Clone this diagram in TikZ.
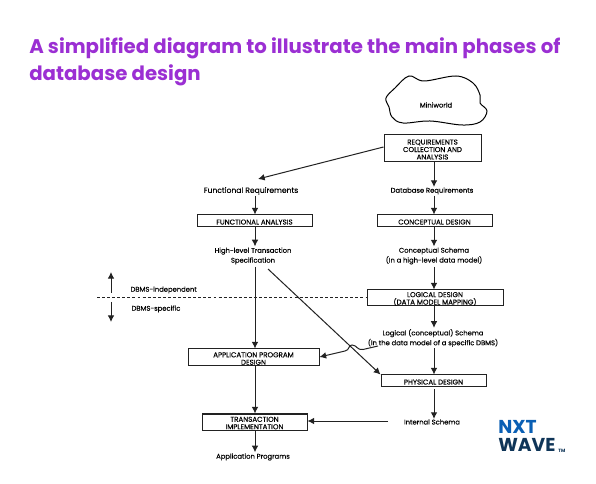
\documentclass[tikz,border=0pt]{standalone}
\usepackage{fontspec}
\setmainfont{Poppins}
\newfontfamily\medfont{Poppins}[FakeBold=0.15]
\usetikzlibrary{arrows.meta}
\definecolor{ttl}{HTML}{9B2FD3}
\definecolor{nxtb}{HTML}{0A5FB4}
\definecolor{nxtd}{HTML}{0F3558}
\definecolor{ink}{HTML}{222222}
\newcommand\dn{\rule{0pt}{5.3pt}}
\tikzset{
  pbox/.style={draw=ink,line width=0.75pt,fill=white,align=center,inner sep=0pt,text=black,font=\fontsize{5.3}{5.6}\selectfont\medfont},
  ptext/.style={align=center,inner sep=1pt,text=black,font=\fontsize{5.1}{7.4}\selectfont\medfont},
  arr/.style={draw=ink,line width=0.75pt,-{Latex[length=5pt,width=5pt]}},
  ttltext/.style={anchor=west,inner sep=0pt,text=ttl,font=\fontsize{14.8}{18}\selectfont\bfseries}
}
\begin{document}
\begin{tikzpicture}[x=0.75pt,y=-0.75pt]
\useasboundingbox[fill=white] (0,0) rectangle (596,484);
\node[ttltext] (t1) at (29,48) {A simplified diagram to illustrate the main phases of};
\node[ttltext] (t2) at (29,75) {database design};
% cloud
\draw[line width=0.75pt,black] plot[smooth cycle,tension=0.6] coordinates {(386,98)(395,88)(409,76)(424,81)(456,76)(473,83)(480,95)(480,103)(487,111)(480,122)(462,125)(430,121)(403,123)(392,117)(389,107)};
\node[ptext] (mini) at (436,105) {Miniworld};
% axes
\coordinate (axr) at (434,0);
\coordinate (axl) at (255,0);
% boxes
\node[pbox,minimum width=97*0.75pt,minimum height=27*0.75pt] (req) at (432.5,148.5) {\dn REQUIREMENTS\\COLLECTION AND\\ANALYSIS};
\node[pbox,minimum width=115*0.75pt,minimum height=12*0.75pt] (fa) at (254.5,221) {\dn FUNCTIONAL ANALYSIS};
\node[pbox,minimum width=115*0.75pt,minimum height=12*0.75pt] (cd) at (434.5,221) {\dn CONCEPTUAL DESIGN};
\node[pbox,minimum width=136*0.75pt,minimum height=16*0.75pt] (ld) at (435,298) {\dn LOGICAL DESIGN\\(DATA MODEL MAPPING)};
\node[pbox,minimum width=131*0.75pt,minimum height=17*0.75pt] (app) at (253.5,357.5) {\dn APPLICATION PROGRAM\\DESIGN};
\node[pbox,minimum width=105*0.75pt,minimum height=12*0.75pt] (pd) at (433.5,381) {\dn PHYSICAL DESIGN};
\node[pbox,minimum width=105*0.75pt,minimum height=16*0.75pt] (ti) at (254.5,422) {\dn TRANSACTION\\IMPLEMENTATION};
% texts
\node[ptext,font=\fontsize{5.7}{7.4}\selectfont\medfont] (fr) at (251,191) {Functional Requirements};
\node[ptext] (dr) at (432,191) {Database Requirements};
\node[ptext] (hl) at (253,256) {High-level Transaction\\Specification};
\node[ptext] (cs) at (434,256) {Conceptual Schema\\(In a high-level data model)};
\node[ptext] (ls) at (433,338) {Logical (conceptual) Schema\\(In the data model of a specific DBMS)};
\node[ptext] (is) at (432,422) {Internal Schema};
\node[ptext] (ap) at (253,457) {Application Programs};
\node[ptext,anchor=west] (di) at (129,290) {DBMS-independent};
\node[ptext,anchor=west] (ds) at (130,309) {DBMS-specific};
% connectors
\coordinate (isl) at (388,421);
\coordinate (fra) at (258,179);
\coordinate (hs) at (268,269);
\draw[arr] (req.west |- 0,147) -- (fra);
\draw[arr] (req.south -| axr) -- ([yshift=-0.8pt]dr.north -| axr);
\draw[arr] ([yshift=0.5pt]fr.south -| axl) -- (fa.north -| axl);
\draw[arr] ([yshift=0.3pt]dr.south -| axr) -- (cd.north -| axr);
\draw[arr] (fa.south -| axl) -- ([yshift=-0.3pt]hl.north -| axl);
\draw[arr] (cd.south -| axr) -- ([yshift=-0.3pt]cs.north -| axr);
\draw[arr] ([yshift=-0.7pt]cs.south -| axr) -- (ld.north -| axr);
\draw[arr] (ld.south -| axr) -- ([yshift=-0.3pt]ls.north -| axr);
\draw[arr] ([yshift=0.3pt]ls.south -| axr) -- (pd.north -| axr);
\draw[arr] ([yshift=-1.5pt]pd.south -| axr) -- ([yshift=-0.8pt]is.north -| axr);
\draw[arr] ([yshift=-0.7pt]hl.south -| axl) -- (app.north -| axl);
\draw[arr] (app.south -| axl) -- (ti.north -| axl);
\draw[arr] (ti.south -| axl) -- ([yshift=-0.3pt]ap.north -| axl);
\draw[arr] (isl) -- (ti.east |- isl);
\draw[arr] (hs) -- (pd.north west);
\draw[arr] (378,346) -- (363,349.5) .. controls (357,350.5) and (357,345) .. (352,345) .. controls (348,345) and (350,350) .. (345,351) -- (app.east |- 0,357);
% dbms divider
\coordinate (dl) at (97,298);
\draw[ink,line width=0.75pt,dash pattern=on 2.2pt off 1.6pt] (dl) -- (ld.west);
\coordinate (u0) at (111,293);
\coordinate (u1) at (111,272);
\coordinate (d0) at (111,302);
\coordinate (d1) at (111,322);
\draw[arr] (u0) -- (u1);
\draw[arr] (d0) -- (d1);
% logo
\node[anchor=west,inner sep=0pt,text=nxtb,font=\fontsize{14}{14}\selectfont\bfseries] (nxt) at (498,427) {NXT};
\node[anchor=west,inner sep=0pt,text=nxtd,font=\fontsize{14}{14}\selectfont\bfseries] (wave) at (498,445) {WAVE};
\node[anchor=west,inner sep=0pt,text=nxtd,font=\fontsize{3.5}{4}\selectfont\bfseries] (tm) at (558,450.5) {TM};
\end{tikzpicture}
\end{document}
